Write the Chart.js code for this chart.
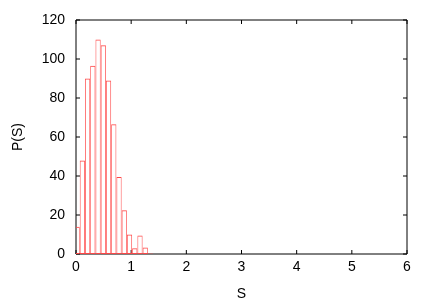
<!DOCTYPE html>
<html>
<head>
<meta charset="utf-8">
<title>P(S)</title>
<script src="https://cdn.jsdelivr.net/npm/chart.js@4/dist/chart.umd.min.js"></script>
<style>
  html, body { margin: 0; padding: 0; background: #fff; }
  canvas { display: block; }
</style>
</head>
<body>
<canvas id="histChart" width="436" height="305"></canvas>
<script>
/* histogram P(S) */

var BIN_CENTERS = [0.02, 0.115, 0.21, 0.305, 0.40, 0.495, 0.59, 0.685, 0.78, 0.875, 0.97, 1.065, 1.16, 1.255, 1.35];
var BIN_COUNTS = [14, 48, 90, 96.5, 110, 107, 89, 66.5, 39.5, 22.5, 10, 3, 9.5, 3.3, 0.3];
var X_TICKS = [0, 1, 2, 3, 4, 5, 6];
var Y_TICKS = [0, 20, 40, 60, 80, 100, 120];
var X_LABEL = 'S';
var Y_LABEL = 'P(S)';

var FONT = { family: '"Liberation Sans", Arial, Helvetica, sans-serif', size: 14 };
var TICK_LEN = 4;

// gnuplot style frame with inward ticks on all four sides
var frameTicksPlugin = {
  id: 'frameTicks',
  beforeDatasetsDraw: function (chart) {
    var ctx = chart.ctx;
    var a = chart.chartArea;
    var xs = chart.scales.x;
    var ys = chart.scales.y;

    ctx.save();
    ctx.strokeStyle = '#000';
    ctx.lineWidth = 1;
    ctx.beginPath();
    ctx.rect(a.left, a.top, a.right - a.left, a.bottom - a.top);

    X_TICKS.forEach(function (v) {
      var px = xs.getPixelForValue(v);
      ctx.moveTo(px, a.bottom);
      ctx.lineTo(px, a.bottom - TICK_LEN);
      ctx.moveTo(px, a.top);
      ctx.lineTo(px, a.top + TICK_LEN);
    });

    Y_TICKS.forEach(function (v) {
      var py = ys.getPixelForValue(v);
      ctx.moveTo(a.left, py);
      ctx.lineTo(a.left + TICK_LEN, py);
      ctx.moveTo(a.right, py);
      ctx.lineTo(a.right - TICK_LEN, py);
    });

    ctx.stroke();
    ctx.restore();
  }
};

var points = BIN_CENTERS.map(function (x, i) {
  return { x: x, y: BIN_COUNTS[i] };
});

new Chart(document.getElementById('histChart').getContext('2d'), {
  type: 'bar',
  data: {
    datasets: [{
      label: Y_LABEL,
      data: points,
      backgroundColor: 'rgba(0,0,0,0)',
      borderColor: 'rgb(255,70,70)',
      borderWidth: { left: 0.75, right: 0.75, top: 1, bottom: 1 },
      borderSkipped: false,
      inflateAmount: 0,
      barPercentage: 1,
      categoryPercentage: 1,
      clip: { left: 0, top: 0, right: 0, bottom: 1 }
    }]
  },
  options: {
    responsive: false,
    animation: false,
    layout: { padding: { top: 20, right: 29, left: 0, bottom: 0 } },
    plugins: {
      legend: { display: false },
      tooltip: { enabled: false }
    },
    scales: {
      x: {
        type: 'linear',
        offset: false,
        min: 0,
        max: 6,
        afterBuildTicks: function (scale) {
          scale.ticks = X_TICKS.map(function (v) { return { value: v }; });
        },
        afterFit: function (scale) { scale.height = 51; },
        grid: { display: false, drawTicks: false },
        border: { display: false },
        ticks: { color: '#000', font: FONT, padding: 5, maxRotation: 0 },
        title: { display: true, text: X_LABEL, color: '#000', font: FONT, padding: { top: 0, bottom: 2 } }
      },
      y: {
        min: 0,
        max: 120,
        afterBuildTicks: function (scale) {
          scale.ticks = Y_TICKS.map(function (v) { return { value: v }; });
        },
        afterFit: function (scale) { scale.width = 76; },
        grid: { display: false, drawTicks: false },
        border: { display: false },
        ticks: { color: '#000', font: FONT, padding: 11 },
        title: { display: true, text: Y_LABEL, color: '#000', font: FONT, padding: { top: 10, bottom: 0 } }
      }
    }
  },
  plugins: [frameTicksPlugin]
});
</script>
</body>
</html>
